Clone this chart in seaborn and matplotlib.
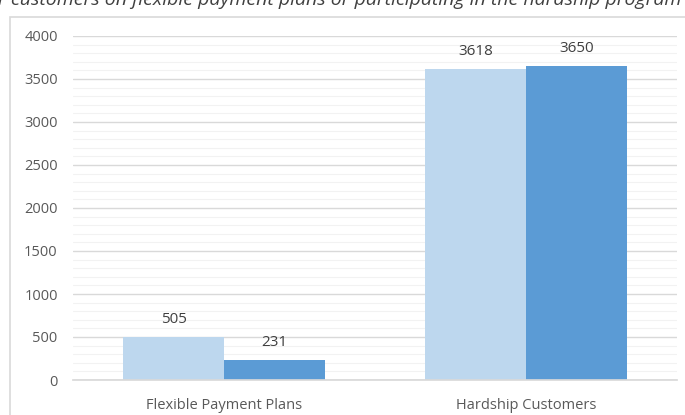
import matplotlib
matplotlib.use("Agg")
import matplotlib.pyplot as plt
import seaborn as sns
import pandas as pd
from matplotlib.patches import Rectangle
from matplotlib.ticker import MultipleLocator

categories = ["Flexible Payment Plans", "Hardship Customers"]
series_names = ["Series A", "Series B"]
values_a = [505, 3618]
values_b = [231, 3650]
title_text = "r customers on flexible payment plans or participating in the hardship program"

df = pd.DataFrame({
    "category": categories * 2,
    "series": [series_names[0]] * 2 + [series_names[1]] * 2,
    "value": values_a + values_b,
})

sns.set_theme(style="white")
plt.rcParams["font.family"] = ["Open Sans", "DejaVu Sans"]

fig = plt.figure(figsize=(6.85, 4.15), dpi=100)
ax = fig.add_axes([73 / 685, 1 - 380 / 415, (677 - 73) / 685, (380 - 36) / 415])

sns.barplot(data=df, x="category", y="value", hue="series",
            palette=["#BDD7EE", "#5B9BD5"], width=0.667, gap=0,
            saturation=1, linewidth=0, ax=ax, legend=False)

ax.set_ylim(0, 4000)
ax.set_xlim(-0.5, 1.5)
ax.yaxis.set_major_locator(MultipleLocator(500))
ax.yaxis.set_minor_locator(MultipleLocator(100))
ax.grid(which="major", axis="y", color="#d9d9d9", linewidth=1)
ax.grid(which="minor", axis="y", color="#f2f2f2", linewidth=0.8)
ax.set_axisbelow(True)
for s in ax.spines.values():
    s.set_visible(False)
ax.spines["bottom"].set_visible(True)
ax.spines["bottom"].set_color("#d9d9d9")
ax.set_xlabel("")
ax.set_ylabel("")
ax.tick_params(axis="both", length=0, labelsize=10.5, labelcolor="#595959")
ax.tick_params(axis="y", pad=11)
ax.tick_params(axis="x", pad=13)

for cont in ax.containers:
    ax.bar_label(cont, fmt="%d", padding=7, fontsize=11, color="#404040")

# outer chart frame
fig.patches.append(Rectangle((10 / 685, -0.05), 1.0, 1 - 17 / 415 + 0.05,
                             transform=fig.transFigure, fill=False,
                             edgecolor="#d9d9d9", linewidth=1.2))

fig.text(-2 / 685, 1 - 5 / 415, title_text, ha="left", va="baseline",
         fontsize=14, style="italic", color="#404040")

fig.savefig("out.png", dpi=100)
